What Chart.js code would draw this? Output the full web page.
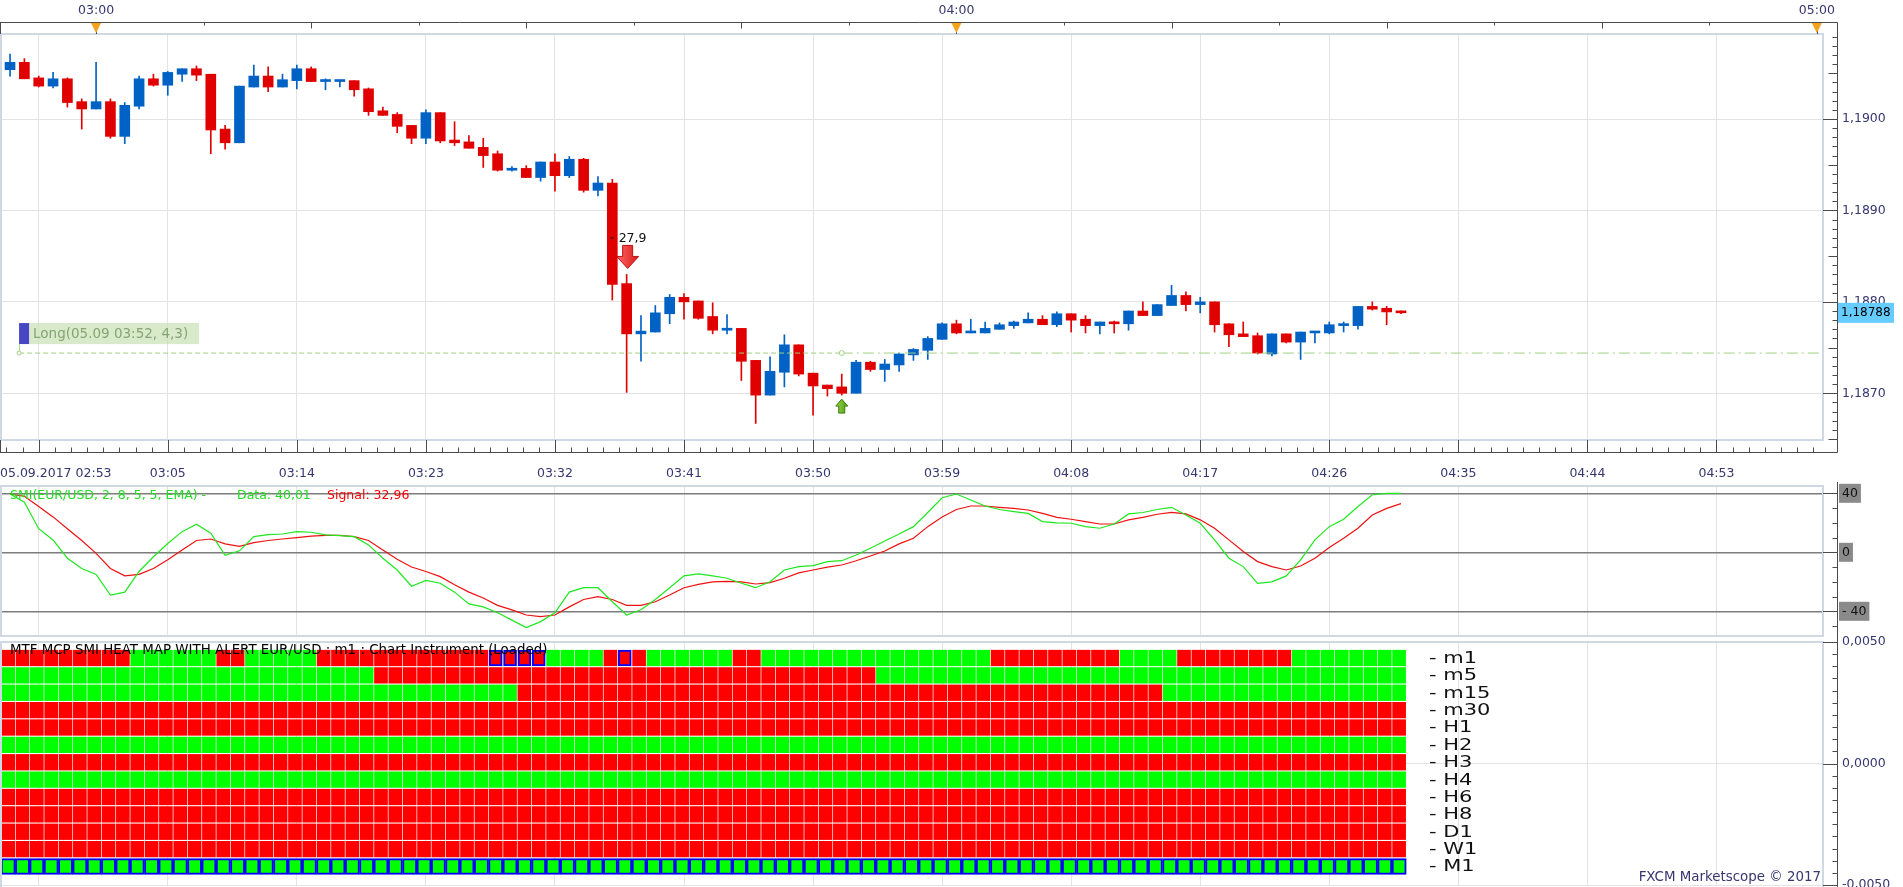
<!DOCTYPE html>
<html><head><meta charset="utf-8">
<script src="https://cdn.jsdelivr.net/npm/chart.js@4.4.1/dist/chart.umd.min.js"></script>
<style>
html,body{margin:0;padding:0;background:#fff;overflow:hidden;width:1903px;height:887px;}
canvas{position:absolute;left:0;}
</style></head><body>
<canvas id="main" width="1903" height="482" style="top:0px"></canvas>
<canvas id="smi" width="1903" height="157" style="top:482px"></canvas>
<canvas id="heat" width="1903" height="253" style="top:634px"></canvas>
<script>
// ---------------- DATA ----------------
const candleStart = '02:54';
const open = [1.19054,1.19062,1.19045,1.19036,1.19044,1.19019,1.19011,1.19019,1.18981,1.19014,
1.19044,1.19037,1.19049,1.19055,1.19049,1.18989,1.18974,1.19035,1.19047,1.19035,
1.19042,1.19055,1.19041,1.19041,1.19042,1.19033,1.19009,1.19005,1.18993,1.18979,
1.19007,1.18977,1.18975,1.18969,1.18962,1.18944,1.18946,1.18936,1.18953,1.18938,
1.18956,1.18922,1.18930,1.18820,1.18765,1.18767,1.18787,1.18805,1.18801,1.18784,
1.18769,1.18771,1.18736,1.18698,1.18723,1.18753,1.18722,1.18709,1.18707,1.18700,
1.18734,1.18726,1.18731,1.18742,1.18747,1.18759,1.18776,1.18766,1.18766,1.18770,
1.18774,1.18777,1.18781,1.18775,1.18787,1.18781,1.18774,1.18778,1.18776,1.18790,
1.18785,1.18796,1.18807,1.18797,1.18800,1.18776,1.18765,1.18763,1.18743,1.18765,
1.18756,1.18766,1.18766,1.18774,1.18774,1.18795,1.18793,1.18790];
const high = [1.19071,1.19066,1.19047,1.19051,1.19045,1.19022,1.19062,1.19022,1.19018,1.19047,
1.19049,1.19052,1.19055,1.19058,1.19049,1.18993,1.19036,1.19059,1.19057,1.19049,
1.19059,1.19057,1.19044,1.19042,1.19042,1.19034,1.19013,1.19007,1.18993,1.19010,
1.19007,1.18997,1.18982,1.18979,1.18965,1.18948,1.18949,1.18953,1.18962,1.18959,
1.18957,1.18937,1.18934,1.18830,1.18785,1.18796,1.18808,1.18809,1.18801,1.18799,
1.18786,1.18771,1.18736,1.18740,1.18764,1.18753,1.18722,1.18709,1.18721,1.18736,
1.18735,1.18737,1.18744,1.18749,1.18762,1.18777,1.18780,1.18781,1.18778,1.18777,
1.18779,1.18788,1.18785,1.18789,1.18787,1.18785,1.18778,1.18779,1.18790,1.18800,
1.18797,1.18818,1.18811,1.18805,1.18800,1.18776,1.18778,1.18766,1.18765,1.18765,
1.18767,1.18767,1.18778,1.18778,1.18795,1.18800,1.18795,1.18790];
const low = [1.19047,1.19044,1.19035,1.19034,1.19013,1.18989,1.19011,1.18979,1.18973,1.19011,
1.19036,1.19026,1.19041,1.19042,1.18962,1.18967,1.18974,1.19035,1.19030,1.19035,
1.19033,1.19041,1.19032,1.19035,1.19025,1.19004,1.19004,1.18985,1.18973,1.18973,
1.18974,1.18971,1.18968,1.18947,1.18943,1.18943,1.18936,1.18932,1.18921,1.18936,
1.18920,1.18916,1.18802,1.18701,1.18735,1.18767,1.18776,1.18781,1.18781,1.18765,
1.18765,1.18714,1.18667,1.18698,1.18707,1.18719,1.18676,1.18697,1.18698,1.18700,
1.18724,1.18713,1.18724,1.18736,1.18737,1.18759,1.18765,1.18766,1.18766,1.18770,
1.18771,1.18777,1.18775,1.18773,1.18767,1.18766,1.18765,1.18766,1.18769,1.18785,
1.18785,1.18796,1.18790,1.18788,1.18767,1.18751,1.18762,1.18743,1.18741,1.18755,
1.18737,1.18755,1.18765,1.18767,1.18770,1.18791,1.18775,1.18787];
const close = [1.19062,1.19044,1.19036,1.19044,1.19018,1.19011,1.19019,1.18981,1.19015,1.19044,
1.19037,1.19051,1.19055,1.19048,1.18988,1.18974,1.19036,1.19047,1.19035,1.19043,
1.19055,1.19041,1.19042,1.19042,1.19032,1.19008,1.19004,1.18992,1.18979,1.19007,
1.18976,1.18974,1.18968,1.18960,1.18944,1.18946,1.18936,1.18953,1.18938,1.18956,
1.18922,1.18930,1.18819,1.18765,1.18768,1.18788,1.18805,1.18800,1.18782,1.18769,
1.18771,1.18735,1.18698,1.18724,1.18753,1.18721,1.18708,1.18705,1.18700,1.18734,
1.18726,1.18732,1.18743,1.18748,1.18760,1.18776,1.18766,1.18767,1.18771,1.18775,
1.18778,1.18781,1.18775,1.18787,1.18780,1.18774,1.18778,1.18776,1.18790,1.18785,
1.18797,1.18807,1.18797,1.18800,1.18775,1.18764,1.18762,1.18744,1.18765,1.18756,
1.18767,1.18767,1.18775,1.18775,1.18795,1.18792,1.18789,1.18788];

const smiData = [39.5,34,16,8.4,-4,-11,-15,-29,-27,-13,
-3,6,14,19,13,-2,1,10.6,12,12.4,
14,13.6,11.8,11.3,10.6,5,-4,-12,-23,-19,
-21,-27,-35,-37,-41,-46,-51,-47,-41,-27,
-24,-24,-33.5,-42.5,-39,-32,-24,-16,-14.7,-16,
-17.6,-21,-24,-20,-12,-9.7,-9,-6.3,-5.7,-1.8,
2.7,7.7,12.4,17.4,27,37,39.5,35.5,31.4,29,
27.6,26.4,20.8,20,19.7,17.4,16.3,19.2,26,27,
29,30.5,25.3,19.7,8.4,-4,-9.7,-21,-20,-16,
-5.2,8.4,17.4,22.4,31,39,40,40.01];
const smiSignal = [39.5,38,31,24,16,8,-0.7,-11,-16,-15,
-11,-5,1.6,8,9,5.7,4,6.6,8,9,
10,11,11.5,11.5,10.6,8,1.6,-4.7,-10,-13,
-16.5,-22,-27,-31,-36,-39,-42.5,-43.6,-42.5,-37,
-32,-30,-32,-36,-36,-33.5,-29,-24,-21.7,-20,
-19.7,-20,-21.5,-20.6,-17.6,-14,-12,-10,-8.6,-5.7,
-2.5,0.9,5.7,9.5,17.4,24,29,31.4,31.4,30.5,
29.8,28.7,26.4,23.7,22.4,20.8,19.2,19.2,22,23.7,
25.8,27,26,22,16.3,8.4,0.5,-6.3,-9.7,-12,
-9.3,-4,3.2,9.5,16.3,25.3,29.8,32.96];

const heatLabels = ['m1','m5','m15','m30','H1','H2','H3','H4','H6','H8','D1','W1','M1'];
// R = red (bearish), G = green (bullish); one letter per m1 bar
const heatRows = [
 'RRRRRRRRR'+'GGGGGG'+'RR'+'GGGGG'+'RRRRRRRRRRRRRRRR'+'GGGG'+'RRR'+'GGGGGG'+'RR'+'GGGGGGGGGGGGGGGG'+'RRRRRRRRR'+'GGGG'+'RRRRRRRR'+'GGGGGGGG',
 'G'.repeat(26)+'R'.repeat(35)+'G'.repeat(37),
 'G'.repeat(36)+'R'.repeat(45)+'G'.repeat(17),
 'R'.repeat(98),
 'R'.repeat(98),
 'G'.repeat(98),
 'R'.repeat(98),
 'G'.repeat(98),
 'R'.repeat(98),
 'R'.repeat(98),
 'R'.repeat(98),
 'R'.repeat(98),
 'G'.repeat(98)
];
const m1AlertCells = [34,35,36,37,43];

const firstTimeLabel = '05.09.2017 02:53';
const gridTimes = ['02:56','03:05','03:14','03:23','03:32','03:41','03:50','03:59','04:08','04:17','04:26','04:35','04:44','04:53'];
const hourLabels = ['03:00','04:00','05:00'];
const priceTicks = [1.1870,1.1880,1.1890,1.1900];
const smiTicks = [-40,0,40];
const heatAxisTicks = [-0.005,0,0.005];

const entryTime = '03:52', entryPrice = 1.18744;
const longText = 'Long(05.09 03:52, 4,3)';
const sellSignal = {time:'03:37', text:'27,9'};
const buySignal = {time:'03:52'};

// ---------------- SETUP ----------------
const FONT = "'DejaVu Sans', Verdana, sans-serif";
Chart.defaults.font.family = FONT;
Chart.defaults.font.size = 12.5;
Chart.defaults.color = '#363670';
const AXIS_TXT = '#363670', GRID = '#e3e3e3', FRAME = '#cfd8e3', AXIS_LINE = '#4b4b4b';
const AX = 1837.5;
const X_MIN = -0.70, X_MAX = 126.43;
const P_MIN = 1.186489, P_MAX = 1.190930;
const SMI_MIN = -56.75, SMI_MAX = 44.95;
const ROW_MIN = -0.921, ROW_MAX = 13.065;
const HEAT_SHIFT = -0.13;
const LONG_X = 0.63;
const UP = '#0062c4', DN = '#e00000', HR = '#ff0000', HG = '#00ff00';

const base = (()=>{const [h,m]=candleStart.split(':').map(Number);return h*60+m;})();
const toMin = s => { const [h,m] = s.split(':').map(Number); return h*60+m-base; };
const fmtComma = (v,d) => v.toFixed(d).replace('.', ',');
const idx = open.map((_,i)=>i);
const gridVals = gridTimes.map(toMin);
const line = (ctx,x1,y1,x2,y2)=>{ctx.beginPath();ctx.moveTo(x1,y1);ctx.lineTo(x2,y2);ctx.stroke();};
const noPad = s => { s.paddingLeft = 0; s.paddingRight = 0; s.paddingTop = 0; s.paddingBottom = 0; };

function xScale(showLabels){
  const tickVals = showLabels ? [X_MIN, ...gridVals, X_MAX] : gridVals;
  return {
    type:'linear', min:X_MIN, max:X_MAX, offset:false,
    grid:{offset:false, drawTicks:false, lineWidth:1,
      color: c => (c.tick && gridVals.includes(c.tick.value)) ? GRID : 'rgba(0,0,0,0)'},
    border:{display:false},
    afterBuildTicks: s => { s.ticks = tickVals.map(v=>({value:v})); },
    afterFit: s => { s.height = showLabels ? 42 : 0; noPad(s); },
    ticks: showLabels ? {
      autoSkip:false, maxRotation:0, minRotation:0, align:'inner', padding:26, color:AXIS_TXT,
      callback: v => {
        if (v === X_MIN) return firstTimeLabel;
        if (v === X_MAX) return '';
        const k = gridVals.indexOf(v);
        return k <= 0 ? '' : gridTimes[k];
      }
    } : {display:false}
  };
}

// ---------------- MAIN PRICE CHART ----------------
const candleColors = idx.map(i => close[i] >= open[i] ? UP : DN);
const mainDecor = {
  id:'mainDecor',
  afterDraw(chart){
    const {ctx, chartArea:a, scales:{x,y}} = chart;
    ctx.save();
    ctx.strokeStyle = FRAME; ctx.lineWidth = 2;
    ctx.strokeRect(a.left+1, a.top, a.right-a.left-1, a.bottom-a.top);
    ctx.strokeStyle = AXIS_LINE; ctx.lineWidth = 1;
    const TOP = 22.5, BOT = 452.5;
    line(ctx,0,TOP,AX,TOP); line(ctx,AX,TOP,AX,BOT); line(ctx,0,BOT,AX,BOT);
    line(ctx,0.5,TOP,0.5,a.top); line(ctx,0.5,a.bottom,0.5,BOT);
    for(let p=Math.ceil(P_MIN*1e4); p<=Math.floor(P_MAX*1e4); p++){
      const yy = Math.round(y.getPixelForValue(p/1e4))+0.5;
      const len = p%10===0 ? AX-a.right : (p%5===0 ? 9 : 5);
      line(ctx,AX-len,yy,AX,yy);
    }
    const h0 = toMin(hourLabels[0]);
    for(let k=-20;k<40;k++){
      const v = h0+7.5*k; if(v<X_MIN||v>X_MAX) continue;
      const px = Math.round(x.getPixelForValue(v))+0.5;
      const len = (k%8===0) ? (a.top-TOP) : (k%2===0 ? 6 : 3);
      line(ctx,px,TOP,px,TOP+len);
    }
    const g0 = gridVals[0];
    for(let j=-10;j<200;j++){
      const v = g0+1.125*j; if(v<X_MIN||v>X_MAX) continue;
      const px = Math.round(x.getPixelForValue(v))+0.5;
      const len = (j%8===0) ? (BOT-a.bottom) : 5;
      line(ctx,px,BOT-len,px,BOT);
    }
    ctx.font = "12.5px "+FONT; ctx.textAlign='center'; ctx.textBaseline='middle';
    hourLabels.forEach(h=>{
      const px = x.getPixelForValue(toMin(h));
      ctx.fillStyle = AXIS_TXT; ctx.fillText(h, px, 10.5);
      ctx.fillStyle = '#f5a31a'; ctx.beginPath(); ctx.moveTo(px-5,23); ctx.lineTo(px+5,23); ctx.lineTo(px,33); ctx.closePath(); ctx.fill();
    });
    // current price box
    const last = close[close.length-1], ly = y.getPixelForValue(last);
    ctx.fillStyle = '#66ccff'; ctx.fillRect(AX+0.5, ly-10, 56, 20);
    ctx.fillStyle = '#000'; ctx.textAlign='left'; ctx.font = "12px "+FONT; ctx.fillText(fmtComma(last,5), AX+3.5, ly+0.5);
    // Long label
    const lx = x.getPixelForValue(LONG_X), ey = y.getPixelForValue(entryPrice);
    ctx.strokeStyle = '#a8d58e'; line(ctx, Math.round(lx)+0.5, ey-9, Math.round(lx)+0.5, ey-2);
    ctx.fillStyle = 'rgba(200,225,180,0.7)'; ctx.fillRect(lx+10, ey-30, 170, 21);
    ctx.fillStyle = '#4747c6'; ctx.fillRect(lx, ey-30, 10, 21);
    ctx.font = "13.5px "+FONT; ctx.fillStyle = '#86a475'; ctx.fillText(longText, lx+14, ey-19);
    // sell signal
    ctx.font = "12.5px "+FONT;
    const si = toMin(sellSignal.time);
    const sx = x.getPixelForValue(si)+1, sy = y.getPixelForValue(high[si]);
    ctx.fillStyle = '#111'; ctx.fillText(sellSignal.text, sx-9, sy-36);
    ctx.strokeStyle='#111'; line(ctx, sx-17, sy-36.5, sx-14, sy-36.5);
    const tip = sy-6;
    const g = ctx.createLinearGradient(sx-11,0,sx+11,0); g.addColorStop(0,'#ff6a6a'); g.addColorStop(1,'#d81818');
    ctx.fillStyle = g; ctx.strokeStyle = '#c01010';
    ctx.beginPath(); ctx.moveTo(sx-5,tip-23); ctx.lineTo(sx+5,tip-23); ctx.lineTo(sx+5,tip-12); ctx.lineTo(sx+11,tip-12);
    ctx.lineTo(sx,tip); ctx.lineTo(sx-11,tip-12); ctx.lineTo(sx-5,tip-12); ctx.closePath(); ctx.fill(); ctx.stroke();
    // buy signal
    const bi = toMin(buySignal.time);
    const bx = x.getPixelForValue(bi), by = y.getPixelForValue(low[bi])+4;
    const g2 = ctx.createLinearGradient(bx-6,0,bx+6,0); g2.addColorStop(0,'#9ad84a'); g2.addColorStop(1,'#4f9a14');
    ctx.fillStyle = g2; ctx.strokeStyle = '#3d7a10';
    ctx.beginPath(); ctx.moveTo(bx,by); ctx.lineTo(bx+6,by+7); ctx.lineTo(bx+3,by+7); ctx.lineTo(bx+3,by+14);
    ctx.lineTo(bx-3,by+14); ctx.lineTo(bx-3,by+7); ctx.lineTo(bx-6,by+7); ctx.closePath(); ctx.fill(); ctx.stroke();
    ctx.restore();
  }
};

new Chart(document.getElementById('main'), {
  type:'bar',
  data:{datasets:[
    {type:'line', data:[{x:LONG_X,y:entryPrice},{x:toMin(entryTime),y:entryPrice}], borderColor:'#9fd282', borderWidth:1,
      borderDash:[5,3], pointRadius:[2,2.5], pointBackgroundColor:'#fff', pointBorderColor:'#9fd282', pointBorderWidth:1, order:0},
    {type:'line', data:[{x:toMin(entryTime),y:entryPrice},{x:X_MAX,y:entryPrice}], borderColor:'#9fd282', borderWidth:1,
      borderDash:[11,4,2,4], pointRadius:0, order:0},
    {data: idx.map(i=>({x:i, y:[low[i],high[i]]})), backgroundColor:candleColors, barThickness:1, grouped:false, order:2},
    {data: idx.map(i=>({x:i, y:[open[i],close[i]]})), backgroundColor:candleColors, barThickness:10, minBarLength:2, grouped:false, order:1}
  ]},
  options:{
    responsive:false, animation:false, devicePixelRatio:1,
    layout:{padding:{top:34,left:0,right:0,bottom:0}, autoPadding:false},
    plugins:{legend:{display:false}, tooltip:{enabled:false}},
    scales:{
      x: xScale(true),
      y:{type:'linear', position:'right', min:P_MIN, max:P_MAX,
        grid:{color:GRID, drawTicks:false}, border:{display:false},
        afterBuildTicks: s => { s.ticks = priceTicks.map(v=>({value:v})); },
        afterFit: s => { s.width = 80; noPad(s); },
        ticks:{padding:19, color:AXIS_TXT, callback: v => fmtComma(v,4)}}
    }
  },
  plugins:[mainDecor]
});

// ---------------- SMI CHART ----------------
const smiDecor = {
  id:'smiDecor',
  afterDraw(chart){
    const {ctx, chartArea:a, scales:{y}} = chart;
    ctx.save();
    ctx.strokeStyle = FRAME; ctx.lineWidth = 2;
    ctx.strokeRect(a.left+1, a.top, a.right-a.left-1, a.bottom-a.top);
    ctx.strokeStyle = AXIS_LINE; ctx.lineWidth = 1;
    line(ctx,AX,0,AX,chart.height);
    for(let v=-50; v<=40; v+=10){
      const yy = Math.round(y.getPixelForValue(v))+0.5;
      const len = (v%40===0) ? AX-a.right : 5;
      line(ctx,AX-len,yy,AX,yy);
    }
    ctx.font = "12.5px "+FONT; ctx.textAlign='left'; ctx.textBaseline='middle';
    const ty = y.getPixelForValue(40)+2;
    ctx.fillStyle = '#22dd22';
    ctx.fillText('SMI(EUR/USD, 2, 8, 5, 5, EMA) -', 10, ty);
    ctx.fillText('Data: ' + fmtComma(smiData[smiData.length-1],2), 237, ty);
    ctx.fillStyle = '#ff0000';
    ctx.fillText('Signal: ' + fmtComma(smiSignal[smiSignal.length-1],2), 327, ty);
    ctx.restore();
  }
};
new Chart(document.getElementById('smi'), {
  type:'line',
  data:{datasets:[
    {data: idx.map(i=>({x:i,y:smiData[i]})), borderColor:'#1ee81e', borderWidth:1.2, pointRadius:0, tension:0},
    {data: idx.map(i=>({x:i,y:smiSignal[i]})), borderColor:'#ee1111', borderWidth:1.2, pointRadius:0, tension:0}
  ]},
  options:{
    responsive:false, animation:false, devicePixelRatio:1,
    layout:{padding:{top:4,left:0,right:0,bottom:3}, autoPadding:false},
    plugins:{legend:{display:false}, tooltip:{enabled:false}},
    scales:{
      x: xScale(false),
      y:{type:'linear', position:'right', min:SMI_MIN, max:SMI_MAX,
        grid:{color:'#7d7d7d', lineWidth:1.5, drawTicks:false}, border:{display:false},
        afterBuildTicks: s => { s.ticks = smiTicks.map(v=>({value:v})); },
        afterFit: s => { s.width = 80; noPad(s); },
        ticks:{padding:19, color:'#111', showLabelBackdrop:true, backdropColor:'#8a8a8a',
          backdropPadding:{top:2,bottom:2,left:3,right:3},
          callback: v => v < 0 ? '- ' + Math.abs(v) : String(v)}}
    }
  },
  plugins:[smiDecor]
});

// ---------------- HEAT MAP ----------------
const heatDecor = {
  id:'heatDecor',
  afterDraw(chart){
    const {ctx, chartArea:a, scales:{rows, val}} = chart;
    ctx.save();
    ctx.strokeStyle = FRAME; ctx.lineWidth = 2;
    ctx.strokeRect(a.left+1, a.top, a.right-a.left-1, a.bottom-a.top+6);
    ctx.strokeStyle = AXIS_LINE; ctx.lineWidth = 1;
    line(ctx,AX,0,AX,chart.height);
    for(let k=-10;k<=10;k++){
      const yy = Math.round(val.getPixelForValue(k*0.0005))+0.5;
      const len = (k%10===0) ? AX-a.right : 5;
      line(ctx,AX-len,yy,AX,yy);
    }
    ctx.textAlign='left'; ctx.textBaseline='middle';
    ctx.fillStyle = '#000'; ctx.font = "13.4px "+FONT;
    ctx.fillText('MTF MCP SMI HEAT MAP WITH ALERT EUR/USD : m1 : Chart Instrument (Loaded)', 10, rows.getPixelForValue(0)-7);
    ctx.fillStyle = '#111'; ctx.font = "15px "+FONT;
    heatLabels.forEach((lab,k)=>{
      ctx.save(); ctx.translate(1429, rows.getPixelForValue(k)+1); ctx.scale(1.4,1);
      ctx.fillText('- ' + lab, 0, 0); ctx.restore();
    });
    ctx.font = "13.4px "+FONT; ctx.fillStyle = AXIS_TXT; ctx.textAlign='right';
    ctx.fillText('FXCM Marketscope \u00A9 2017', a.right-2, 877.5-chart.canvas.offsetTop);
    ctx.restore();
  }
};
const heatSets = heatLabels.map((lab,k)=>{
  const isM1 = lab === 'M1';
  const alerts = k === 0 ? m1AlertCells : [];
  return {
    yAxisID:'rows', grouped:false, barThickness: isM1 ? 14.3 : 13, borderSkipped:false,
    data: idx.map(i=>({x:i+HEAT_SHIFT, y:[k-0.45, k+0.45]})),
    backgroundColor: idx.map(i=> heatRows[k][i]==='R' ? HR : HG),
    borderColor: idx.map(i=> (isM1 || alerts.includes(i)) ? '#0000ff' : 'rgba(0,0,0,0)'),
    borderWidth: idx.map(i=> (isM1 || alerts.includes(i)) ? 2 : 0)
  };
});
new Chart(document.getElementById('heat'), {
  type:'bar',
  data:{datasets:heatSets},
  options:{
    responsive:false, animation:false, devicePixelRatio:1,
    layout:{padding:{top:8,left:0,right:0,bottom:2}, autoPadding:false},
    plugins:{legend:{display:false}, tooltip:{enabled:false}},
    scales:{
      x: xScale(false),
      rows:{type:'linear', display:true, position:'left', reverse:true, min:ROW_MIN, max:ROW_MAX,
        grid:{display:false, drawTicks:false}, border:{display:false}, ticks:{display:false},
        afterFit: s => { s.width = 0; noPad(s); }},
      val:{type:'linear', position:'right', min:-0.005, max:0.005,
        grid:{color:GRID, drawTicks:false}, border:{display:false},
        afterBuildTicks: s => { s.ticks = heatAxisTicks.map(v=>({value:v})); },
        afterFit: s => { s.width = 80; noPad(s); },
        ticks:{padding:19, color:AXIS_TXT, callback: v => fmtComma(v,4)}}
    }
  },
  plugins:[heatDecor]
});
</script></body></html>
